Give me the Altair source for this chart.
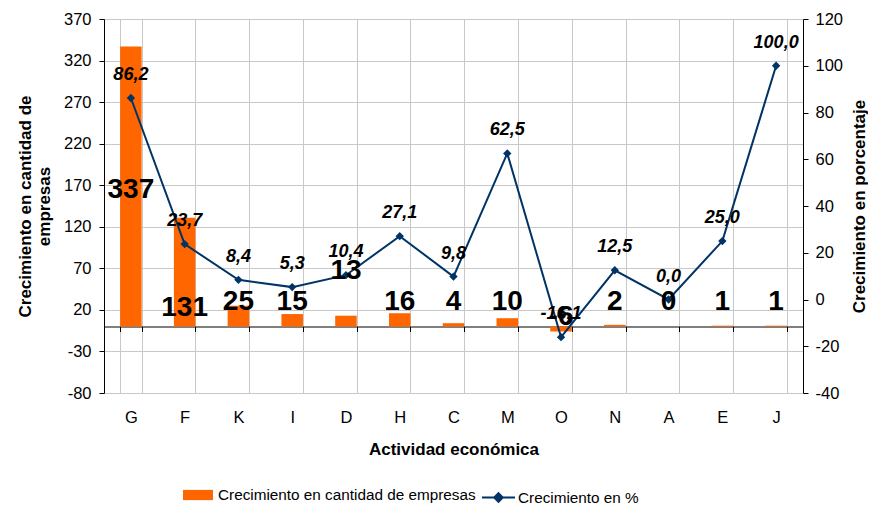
import altair as alt
import pandas as pd

cats = ["G", "F", "K", "I", "D", "H", "C", "M", "O", "N", "A", "E", "J"]
count = [337, 131, 25, 15, 13, 16, 4, 10, -6, 2, 0, 1, 1]
pct = [86.2, 23.7, 8.4, 5.3, 10.4, 27.1, 9.8, 62.5, -16.1, 12.5, 0.0, 25.0, 100.0]
left_ticks = [-80, -30, 20, 70, 120, 170, 220, 270, 320, 370]
right_ticks = [-40, -20, 0, 20, 40, 60, 80, 100, 120]

bar_name = "Crecimiento en cantidad de empresas"
line_name = "Crecimiento en %"

df = pd.DataFrame({"cat": cats, "count": count, "pct": pct,
                   "s1": bar_name, "s2": line_name})

FONT = "Liberation Sans"
ORANGE = "#FF6600"
NAVY = "#003366"
GRID = "#C8C8C8"
TICK_FS = 16.5
TITLE_FS = 17
HYPHEN = "replace(datum.label, '\u2212', '-')"

xaxis = alt.Axis(title="Actividad económica", titleFontSize=TITLE_FS, titleFontWeight="bold",
                 titleColor="black", titlePadding=15,
                 labelAngle=0, labelFontSize=TICK_FS, labelColor="black", labelPadding=78,
                 offset=-66.5, tickBand="extent", tickSize=5, tickColor="black",
                 domainColor="black", grid=True, gridColor=GRID)
x = alt.X("cat:N", sort=cats, scale=alt.Scale(paddingInner=0.6, paddingOuter=0.3), axis=xaxis)

lscale = alt.Scale(domain=[-80, 370], nice=False, zero=False)
rscale = alt.Scale(domain=[-40, 120], nice=False, zero=False)

base = alt.Chart(df)

bars = base.mark_bar(color=ORANGE).encode(
    x=x,
    y=alt.Y("count:Q", scale=lscale,
            axis=alt.Axis(values=left_ticks, title=["Crecimiento en cantidad de", "empresas"],
                          titleFontSize=TITLE_FS, titleFontWeight="bold", titleColor="black",
                          titleLineHeight=19, labelExpr=HYPHEN,
                          labelFontSize=TICK_FS, labelColor="black", tickColor="black",
                          domainColor="black", grid=True, gridColor=GRID, tickSize=5,
                          labelPadding=8, titlePadding=10)),
    color=alt.Color("s1:N", scale=alt.Scale(range=[ORANGE]),
                    legend=alt.Legend(title=None, orient="none", legendX=79, legendY=461,
                                      labelFontSize=15.3, labelColor="black", labelFont=FONT,
                                      labelLimit=400,
                                      symbolType="M-1,-0.34H1V0.34H-1Z", symbolSize=900,
                                      symbolStrokeWidth=0, labelOffset=5)),
)

line = base.mark_line(color=NAVY, strokeWidth=2).encode(
    x=x,
    y=alt.Y("pct:Q", scale=rscale,
            axis=alt.Axis(orient="right", values=right_ticks, title="Crecimiento en porcentaje",
                          titleFontSize=TITLE_FS, titleFontWeight="bold", titleColor="black",
                          titleAngle=-90, labelExpr=HYPHEN,
                          labelFontSize=TICK_FS, labelColor="black", tickColor="black",
                          domainColor="black", grid=False, tickSize=5,
                          labelPadding=7, titlePadding=26)),
    stroke=alt.Stroke("s2:N", scale=alt.Scale(range=[NAVY]),
                      legend=alt.Legend(title=None, orient="none", legendX=377, legendY=461,
                                        labelFontSize=15.3, labelColor="black", labelFont=FONT,
                                        labelOffset=2, labelLimit=400,
                                        symbolType="M-1,0H1M0,-0.26L0.26,0L0,0.26L-0.26,0Z",
                                        symbolSize=1089, symbolFillColor=NAVY,
                                        symbolStrokeColor=NAVY, symbolStrokeWidth=2)),
)

points = base.mark_point(shape="diamond", filled=True, size=70, color=NAVY, opacity=1).encode(
    x=x,
    y=alt.Y("pct:Q", scale=rscale, axis=None),
)

line_labels = base.transform_calculate(
    lab="replace(replace(format(datum.pct, '.1f'), '.', ','), '\u2212', '-')"
).mark_text(font=FONT, fontSize=18, fontWeight="bold", fontStyle="italic",
            color="black", dy=-23, baseline="middle").encode(
    x=x,
    y=alt.Y("pct:Q", scale=rscale, axis=None),
    text="lab:N",
)

bar_labels = base.transform_calculate(
    ly="datum.cat == 'G' ? 164 : datum.cat == 'D' ? 67 : datum.cat == 'F' ? 22 : datum.cat == 'O' ? 11 : 30"
).mark_text(font=FONT, fontSize=28, fontWeight="bold", color="black", baseline="middle").encode(
    x=x,
    y=alt.Y("ly:Q", scale=lscale, axis=None),
    text="count:N",
)

chart = alt.layer(bars, line, points, line_labels, bar_labels).resolve_scale(
    y="independent", color="independent", stroke="independent"
).properties(
    width=699, height=374,
    autosize=alt.AutoSizeParams(type="none"),
    padding={"left": 96, "top": 11, "right": 65, "bottom": 115},
).configure_view(stroke=None).configure(font=FONT).configure_axis(labelFont=FONT, titleFont=FONT)

chart.save("out.html", embed_options={"renderer": "svg", "actions": False})
